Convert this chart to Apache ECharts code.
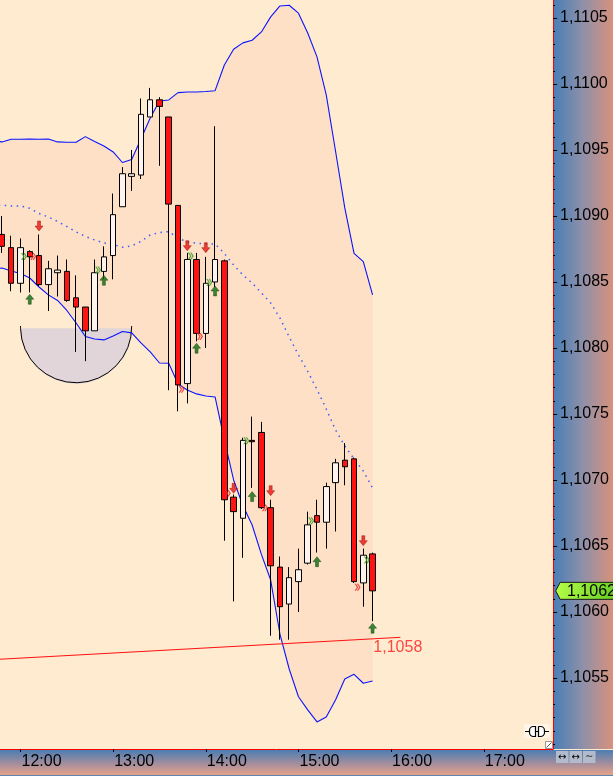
<!DOCTYPE html>
<html><head><meta charset="utf-8">
<script src="https://cdn.jsdelivr.net/npm/echarts@6/dist/echarts.min.js"></script>
<style>html,body{margin:0;padding:0;background:#ffecd0;overflow:hidden}#c{width:613px;height:776px;}</style>
</head><body><div id="c"></div>
<script>
// ---------- data ----------
const candleTimes = ['11:48','11:54','12:00','12:06','12:12','12:18','12:24','12:30','12:36','12:42',
  '12:48','12:54','13:00','13:06','13:12','13:18','13:24','13:30','13:36','13:42',
  '13:48','13:54','14:00','14:06','14:12','14:18','14:24','14:30','14:36','14:42',
  '14:48','14:54','15:00','15:06','15:12','15:18','15:24','15:30','15:36','15:42','15:48'];
const opens  = [1.10886,1.10876,1.10849,1.10873,1.10870,1.10848,1.10857,1.10858,1.10838,1.10831,
  1.10813,1.10858,1.10870,1.10907,1.10930,1.10931,1.10975,1.10988,1.10975,1.10908,
  1.10773,1.10867,1.10811,1.10850,1.10866,1.10687,1.10671,1.10730,1.10736,1.10679,
  1.10634,1.10606,1.10623,1.10637,1.10673,1.10668,1.10698,1.10715,1.10716,1.10622,1.10644];
const highs  = [1.10900,1.10885,1.10883,1.10874,1.10886,1.10866,1.10870,1.10867,1.10855,1.10831,
  1.10867,1.10877,1.10917,1.10937,1.10950,1.10989,1.10997,1.10990,1.10975,1.10908,
  1.10872,1.10872,1.10869,1.10968,1.10867,1.10689,1.10732,1.10748,1.10744,1.10685,
  1.10642,1.10634,1.10648,1.10676,1.10685,1.10698,1.10716,1.10728,1.10717,1.10648,1.10645];
const lows   = [1.10872,1.10843,1.10842,1.10842,1.10847,1.10828,1.10839,1.10835,1.10797,1.10790,
  1.10813,1.10852,1.10852,1.10907,1.10919,1.10928,1.10975,1.10938,1.10768,1.10752,
  1.10758,1.10805,1.10800,1.10846,1.10654,1.10608,1.10641,1.10694,1.10678,1.10582,
  1.10579,1.10579,1.10600,1.10636,1.10645,1.10648,1.10661,1.10696,1.10622,1.10604,1.10593];
const closes = [1.10877,1.10849,1.10876,1.10869,1.10848,1.10860,1.10859,1.10836,1.10831,1.10813,
  1.10857,1.10869,1.10901,1.10932,1.10932,1.10977,1.10988,1.10983,1.10909,1.10772,
  1.10867,1.10811,1.10849,1.10867,1.10685,1.10676,1.10730,1.10729,1.10679,1.10635,
  1.10604,1.10626,1.10632,1.10666,1.10668,1.10695,1.10713,1.10710,1.10623,1.10643,1.10616];

const bandTimes = ['11:42'].concat(candleTimes);
const bandUpper = [1.10957,1.109561,1.109581,1.109581,1.109583,1.109581,1.109583,1.109561,1.109558,1.109558,1.109601,
  1.109564,1.10953,1.109485,1.109405,1.109428,1.109583,1.109742,1.109871,1.109879,1.109934,
  1.109939,1.109939,1.109943,1.109949,1.110144,1.110263,1.110311,1.110331,1.110394,1.110508,
  1.110591,1.110596,1.110536,1.110386,1.110205,1.109917,1.109492,1.109061,1.108717,1.108654,1.108402];
const bandLower = [1.108598,1.108606,1.108583,1.108564,1.10853,1.108462,1.108402,1.10836,1.108284,1.108189,1.108087,
  1.108068,1.108061,1.108091,1.108125,1.108114,1.108038,1.10797,1.107886,1.107884,1.107727,
  1.107682,1.107652,1.107636,1.107629,1.107303,1.107,1.106807,1.106659,1.106436,1.106242,
  1.105833,1.105568,1.105358,1.105258,1.105167,1.105205,1.105333,1.105492,1.105528,1.10546,1.105477];
const bandMid = [1.109081,1.109081,1.109076,1.109076,1.109058,1.109019,1.108992,1.108958,1.10892,1.108879,1.108845,
  1.108818,1.108795,1.108784,1.108763,1.108773,1.108807,1.108856,1.108875,1.108881,1.108833,
  1.108803,1.108793,1.108789,1.108788,1.108716,1.108629,1.108553,1.108492,1.108417,1.108341,
  1.108227,1.108083,1.107947,1.107822,1.107686,1.107538,1.107379,1.107258,1.107159,1.107068,1.106939];

const sellArrowTimes  = ['12:12','13:48','14:00','14:18','14:42','15:42'];
const sellArrowPrices = [1.108924,1.108775,1.10876,1.106937,1.106919,1.10654];
const buyArrowTimes   = ['12:06','12:54','13:54','14:06','14:30','15:12','15:48'];
const buyArrowPrices  = [1.108369,1.108513,1.107998,1.108432,1.106874,1.106381,1.105877];
const greenMarkTimes  = ['12:00','12:48','13:48','14:00','14:24','15:06','15:42'];
const greenMarkPrices = [1.108692,1.108591,1.108697,1.108495,1.107298,1.106692,1.106394];
const redMarkTimes    = ['12:06','13:42','13:54','14:12','14:36','15:36'];
const redMarkPrices   = [1.108692,1.107687,1.108086,1.106899,1.10679,1.106187];

const trendTimes  = ['11:42','16:06'];
const trendPrices = [1.105639,1.105808];
const arcTimes = ['12:00','13:12'];
const arcPrice = 1.10815;

const xTickLabels = ['12:00','13:00','14:00','15:00','16:00','17:00'];
const yTickLabels = ['1,1055','1,1060','1,1065','1,1070','1,1075','1,1080','1,1085','1,1090','1,1095','1,1100','1,1105'];
const xRange = [706.72, 1064.84];      // visible time window, minutes of day
const yRange = [1.104962, 1.110636];   // visible price window

// ---------- helpers ----------
const toMin = s => { const p = s.split(':'); return +p[0]*60 + +p[1]; };
const fmtPrice = v => v.toFixed(4).replace('.', ',');
const xTickValues = xTickLabels.map(toMin);
const yTickValues = yTickLabels.map(s => parseFloat(s.replace(',', '.')));
const yMinorTicks = [];
for (let k = Math.ceil(yRange[0]*10000); k <= Math.floor(yRange[1]*10000); k++) yMinorTicks.push(k/10000);
const nearestLabel = (vals, labels, v) => {
  let bi = 0; vals.forEach((x,i)=>{ if (Math.abs(x-v) < Math.abs(vals[bi]-v)) bi = i; }); return labels[bi];
};

const candleData = candleTimes.map((t,i)=>[toMin(t), opens[i], closes[i], lows[i], highs[i]]);
const pairs = (ts, vs) => ts.map((t,i)=>[toMin(t), vs[i]]);

const FONT = 'Liberation Sans';
const FS = 16;
const chart = echarts.init(document.getElementById('c'), null, {renderer:'canvas'});

const downArrow = 'path://M2.5,0H5.5V4.5H8L4,9L0,4.5H2.5Z';
const upArrow = 'path://M4,0L8,4.5H5.5V9H2.5V4.5H0Z';
const chevron = 'path://M0,0L2.5,3.5L0,7H1.5L4,3.5L1.5,0ZM2.5,0L5,3.5L2.5,7H4L6.5,3.5L4,0Z';

const option = {
  animation: false,
  backgroundColor: '#ffecd0',
  grid: {left:0, right:60, top:0, bottom:27, show:true, backgroundColor:'#ffecd0', borderWidth:0},
  xAxis: [{
    type:'value', min:xRange[0], max:xRange[1], position:'bottom', z:5,
    axisLine:{show:true, lineStyle:{color:'#ff0000', width:1}},
    axisTick:{show:true, customValues:xTickValues, length:3, lineStyle:{color:'#000'}},
    axisLabel:{show:true, customValues:xTickValues, align:'left', margin:5, padding:[0,0,0,1],
      color:'#000', fontFamily:FONT, fontSize:FS,
      formatter: v => nearestLabel(xTickValues, xTickLabels, v)},
    splitLine:{show:false}
  }],
  yAxis: [{
    type:'value', min:yRange[0], max:yRange[1], position:'right', z:5,
    axisLine:{show:true, lineStyle:{color:'#ff0000', width:1}},
    axisTick:{show:true, customValues:yTickValues, length:4, lineStyle:{color:'#000'}},
    axisLabel:{show:true, customValues:yTickValues, margin:7, color:'#000', fontFamily:FONT, fontSize:FS,
      formatter: v => nearestLabel(yTickValues, yTickLabels, v)},
    splitLine:{show:false}
  },{
    type:'value', min:yRange[0], max:yRange[1], position:'right', z:5,
    axisLine:{show:false},
    axisTick:{show:true, customValues:yMinorTicks, length:2, lineStyle:{color:'#000'}},
    axisLabel:{show:false}, splitLine:{show:false}
  }],
  series: [
    {type:'custom', name:'bandFill', z:1, clip:true, silent:true,
      data:[[toMin(bandTimes[0]), bandUpper[0]]],
      renderItem: function(params, api){
        const pts = [];
        bandTimes.forEach((t,i)=>pts.push(api.coord([toMin(t), bandUpper[i]])));
        for (let i = bandTimes.length-1; i >= 0; i--) pts.push(api.coord([toMin(bandTimes[i]), bandLower[i]]));
        return {type:'polygon', shape:{points:pts}, style:{fill:'#fde0c5'}};
      }},
    {type:'custom', name:'arc', z:2, data:[[toMin(arcTimes[0]), arcPrice]],
      renderItem: function(params, api){
        const pL = api.coord([toMin(arcTimes[0]), arcPrice]);
        const pR = api.coord([toMin(arcTimes[1]), arcPrice]);
        const cx = (pL[0]+pR[0])/2, cy = (pL[1]+pR[1])/2, r = (pR[0]-pL[0])/2;
        return {type:'group', children:[
          {type:'sector', shape:{cx:cx, cy:cy, r0:0, r:r, startAngle:0, endAngle:Math.PI, clockwise:true},
            style:{fill:'#e1d5d9'}},
          {type:'arc', shape:{cx:cx, cy:cy-1, r:r, startAngle:-0.02, endAngle:Math.PI+0.02, clockwise:true},
            style:{stroke:'#000', fill:null, lineWidth:1}}
        ]};
      }},
    {type:'line', name:'upper', data:pairs(bandTimes, bandUpper), symbol:'none', z:3,
      lineStyle:{color:'#0a14ff', width:1.1}},
    {type:'line', name:'lower', data:pairs(bandTimes, bandLower), symbol:'none', z:3,
      lineStyle:{color:'#0a14ff', width:1.1}},
    {type:'line', name:'mid', data:pairs(bandTimes, bandMid), symbol:'none', z:3,
      lineStyle:{color:'#3c5cff', width:1.5, type:[1.5,4.5]}},
    {type:'line', name:'trend', data:pairs(trendTimes, trendPrices), symbol:'none', z:3,
      lineStyle:{color:'#ff1010', width:1}},
    {type:'scatter', name:'trendLabel', data:[[toMin(trendTimes[1]), trendPrices[1]]], symbolSize:0, z:6,
      label:{show:true, position:[-27,2], color:'#ff1a1a', fontFamily:FONT, fontSize:FS,
        formatter: p => fmtPrice(p.value[1])}},
    {type:'candlestick', name:'price', data:candleData, z:4, barWidth:6,
      dimensions:['t','open','close','lowest','highest'], encode:{x:0, y:[1,2,3,4]},
      itemStyle:{color:'#fff3ee', color0:'#ff1212', borderColor:'#000', borderColor0:'#000', borderWidth:1}},
    {type:'scatter', name:'sell', data:pairs(sellArrowTimes, sellArrowPrices), symbol:downArrow, symbolSize:[8,10], z:5,
      itemStyle:{color:'#e81212', borderColor:'#8a0000', borderWidth:0.5}},
    {type:'scatter', name:'buy', data:pairs(buyArrowTimes, buyArrowPrices), symbol:upArrow, symbolSize:[8,10], z:5,
      itemStyle:{color:'#0c6a0c', borderColor:'#063806', borderWidth:0.5}},
    {type:'scatter', name:'gmark', data:pairs(greenMarkTimes, greenMarkPrices), symbol:chevron, symbolSize:[6,7],
      symbolOffset:[3.5,0], z:5, itemStyle:{color:'#3c9a22', opacity:0.85}},
    {type:'scatter', name:'rmark', data:pairs(redMarkTimes, redMarkPrices), symbol:chevron, symbolSize:[6,7],
      symbolOffset:[3.5,0], z:5, itemStyle:{color:'#f02828', opacity:0.85}}
  ],
  graphic: [
    {type:'rect', id:'rpanel', z:0, shape:{x:554, y:0, width:59, height:749},
      style:{fill:new echarts.graphic.LinearGradient(0,0,1,0,[{offset:0,color:'#4a7fb6'},{offset:0.5,color:'#9090a8'},{offset:1,color:'#d8917c'}])}},
    {type:'rect', id:'bpanel', z:0, shape:{x:0, y:750, width:613, height:26},
      style:{fill:new echarts.graphic.LinearGradient(0,0,0,1,[{offset:0,color:'#4b7db2'},{offset:0.55,color:'#a88f9c'},{offset:1,color:'#eca486'}])}},
    {type:'rect', id:'bline', z:1, shape:{x:0, y:775, width:613, height:1}, style:{fill:'#5b84b4'}},
    {type:'rect', id:'btn1', z:1, shape:{x:556, y:751, width:12.5, height:12}, style:{fill:'#b2bacb'}},
    {type:'rect', id:'btn2', z:1, shape:{x:569.5, y:751, width:12.5, height:12}, style:{fill:'#b2bacb'}},
    {type:'rect', id:'btn3', z:1, shape:{x:583, y:751, width:12.5, height:12}, style:{fill:'#b2bacb'}},
    {type:'text', id:'btn1t', z:2, style:{x:562.2, y:757, text:'↔', fill:'#000', font:'10px DejaVu Sans', align:'center', verticalAlign:'middle'}},
    {type:'text', id:'btn2t', z:2, style:{x:575.7, y:757, text:'↔', fill:'#000', font:'10px DejaVu Sans', align:'center', verticalAlign:'middle'}},
    {type:'text', id:'btn3t', z:2, style:{x:589.2, y:756, text:'∼', fill:'#222', font:'10px DejaVu Sans', align:'center', verticalAlign:'middle'}},
    {type:'rect', id:'plugbg', z:7, shape:{x:524, y:724, width:26, height:14}, style:{fill:'#fff4e6'}},
    {type:'line', id:'plugl', z:8, shape:{x1:525, y1:731.5, x2:549, y2:731.5}, style:{stroke:'#000', lineWidth:1}},
    {type:'rect', id:'plug1', z:9, shape:{x:529.5, y:726.5, width:6, height:10, r:[4,0,0,4]}, style:{fill:'#fff', stroke:'#000', lineWidth:1.2}},
    {type:'rect', id:'plug2', z:9, shape:{x:538.5, y:726.5, width:6, height:10, r:[0,4,4,0]}, style:{fill:'#fff', stroke:'#000', lineWidth:1.2}},
    {type:'rect', id:'resz', z:8, shape:{x:545.5, y:741.5, width:7, height:7}, style:{fill:'#fff', stroke:'#999', lineWidth:1}},
    {type:'line', id:'reszl', z:9, shape:{x1:546.5, y1:747.5, x2:551.5, y2:742.5}, style:{stroke:'#555', lineWidth:1}}
  ]
};
chart.setOption(option);

// last-price tag on the price axis
const lastClose = closes[closes.length-1];
const cy = chart.convertToPixel({yAxisIndex:0}, lastClose);
const ax = 553 + 2.7;
chart.setOption({graphic:[
  {type:'polygon', id:'tag', z:10, shape:{points:[[ax,cy],[ax+4.5,cy-8.5],[620,cy-8.5],[620,cy+8.5],[ax+4.5,cy+8.5]]},
    style:{fill:new echarts.graphic.LinearGradient(0,0,1,1,[{offset:0,color:'#b8ff4a'},{offset:1,color:'#5cc81c'}]), stroke:'#1a1a1a', lineWidth:1}},
  {type:'text', id:'tagt', z:11, style:{x:567, y:cy+0.5, text:fmtPrice(lastClose), fill:'#000', font:FS+'px '+FONT, verticalAlign:'middle'}}
]});
</script></body></html>
